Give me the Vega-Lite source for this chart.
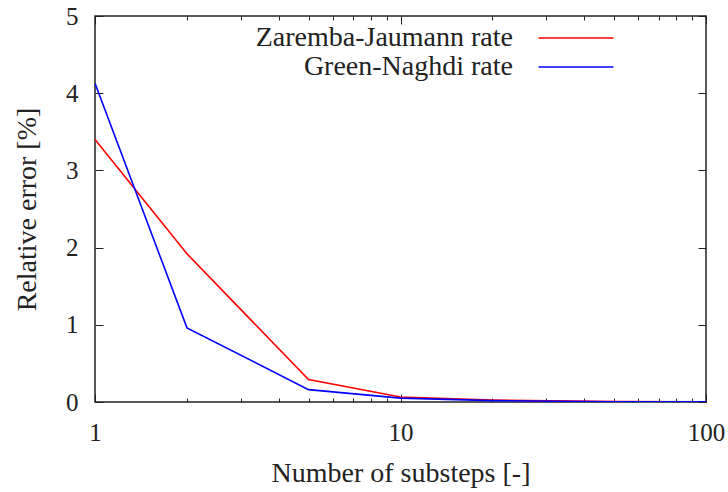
{
  "$schema": "https://vega.github.io/schema/vega-lite/v6.json",
  "width": 611,
  "height": 386,
  "autosize": {"type": "none"},
  "padding": {"left": 95, "top": 16, "right": 22, "bottom": 90},
  "background": "white",
  "config": {
    "font": "Liberation Serif",
    "view": {"stroke": "#222", "strokeWidth": 1.5},
    "axis": {
      "domain": false,
      "grid": false,
      "tickColor": "#222",
      "tickWidth": 1,
      "labelColor": "#222",
      "titleColor": "#222",
      "labelFont": "Liberation Serif",
      "titleFont": "Liberation Serif",
      "labelFontSize": 25,
      "titleFontSize": 28,
      "titleFontWeight": "normal"
    }
  },
  "data": {
    "values": [
      {"series": "Zaremba-Jaumann rate", "substeps": 1, "error": 3.40},
      {"series": "Zaremba-Jaumann rate", "substeps": 2, "error": 1.92},
      {"series": "Zaremba-Jaumann rate", "substeps": 5, "error": 0.29},
      {"series": "Zaremba-Jaumann rate", "substeps": 10, "error": 0.065},
      {"series": "Zaremba-Jaumann rate", "substeps": 20, "error": 0.025},
      {"series": "Zaremba-Jaumann rate", "substeps": 50, "error": 0.005},
      {"series": "Zaremba-Jaumann rate", "substeps": 100, "error": 0.002},
      {"series": "Green-Naghdi rate", "substeps": 1, "error": 4.13},
      {"series": "Green-Naghdi rate", "substeps": 2, "error": 0.96},
      {"series": "Green-Naghdi rate", "substeps": 5, "error": 0.16},
      {"series": "Green-Naghdi rate", "substeps": 10, "error": 0.05},
      {"series": "Green-Naghdi rate", "substeps": 20, "error": 0.018},
      {"series": "Green-Naghdi rate", "substeps": 50, "error": 0.004},
      {"series": "Green-Naghdi rate", "substeps": 100, "error": 0.001}
    ]
  },
  "resolve": {"scale": {"x": "independent", "y": "independent"}, "axis": {"x": "independent", "y": "independent"}},
  "layer": [
    {
      "mark": {"type": "line", "strokeWidth": 1.6, "clip": true},
      "encoding": {
        "x": {
          "field": "substeps", "type": "quantitative",
          "scale": {"type": "log", "domain": [1, 100], "nice": false},
          "axis": {
            "orient": "bottom",
            "values": [1, 10, 100],
            "ticks": false,
            "labelPadding": 18,
            "labelFlush": false,
            "labelOverlap": false,
            "title": "Number of substeps [-]",
            "titlePadding": 14
          }
        },
        "y": {
          "field": "error", "type": "quantitative",
          "scale": {"domain": [0, 5], "nice": false, "zero": true},
          "axis": {
            "orient": "left",
            "values": [0, 1, 2, 3, 4, 5],
            "ticks": false,
            "labelPadding": 17,
            "title": "Relative error [%]",
            "titlePadding": 24
          }
        },
        "color": {
          "field": "series", "type": "nominal",
          "scale": {"domain": ["Zaremba-Jaumann rate", "Green-Naghdi rate"], "range": ["#ff0000", "#0000ff"]},
          "legend": {
            "orient": "none",
            "legendX": 467,
            "legendY": 8,
            "title": null,
            "symbolType": "M-5,0H5",
            "symbolSize": 225,
            "symbolStrokeWidth": 1.6,
            "symbolFillColor": "transparent",
            "labelFont": "Liberation Serif",
            "labelFontSize": 28,
            "labelColor": "#222",
            "rowPadding": 1,
            "padding": 0,
            "labelLimit": 400,
            "encode": {
              "labels": {"update": {"align": {"value": "right"}, "x": {"value": -49}}}
            }
          }
        }
      }
    },
    {
      "mark": {"type": "line", "strokeOpacity": 0},
      "encoding": {
        "x": {
          "field": "substeps", "type": "quantitative",
          "scale": {"type": "log", "domain": [1, 100], "nice": false},
          "axis": {
            "orient": "top",
            "offset": -386,
            "values": [1,2,3,4,5,6,7,8,9,10,20,30,40,50,60,70,80,90,100],
            "labels": false,
            "ticks": true,
            "tickSize": {"condition": {"test": "datum.value == 1 || datum.value == 10 || datum.value == 100", "value": 8}, "value": 4},
            "title": null
          }
        },
        "y": {
          "field": "error", "type": "quantitative",
          "scale": {"domain": [0, 5], "nice": false, "zero": true},
          "axis": {
            "orient": "right",
            "offset": -611,
            "values": [0, 1, 2, 3, 4, 5],
            "labels": false,
            "ticks": true,
            "tickSize": 8,
            "title": null
          }
        },
        "detail": {"field": "series"}
      }
    },
    {
      "mark": {"type": "line", "strokeOpacity": 0},
      "encoding": {
        "x": {
          "field": "substeps", "type": "quantitative",
          "scale": {"type": "log", "domain": [1, 100], "nice": false},
          "axis": {
            "orient": "bottom",
            "offset": -386,
            "values": [1,2,3,4,5,6,7,8,9,10,20,30,40,50,60,70,80,90,100],
            "labels": false,
            "ticks": true,
            "tickSize": {"condition": {"test": "datum.value == 1 || datum.value == 10 || datum.value == 100", "value": 8}, "value": 4},
            "title": null
          }
        },
        "y": {
          "field": "error", "type": "quantitative",
          "scale": {"domain": [0, 5], "nice": false, "zero": true},
          "axis": {
            "orient": "left",
            "offset": -611,
            "values": [0, 1, 2, 3, 4, 5],
            "labels": false,
            "ticks": true,
            "tickSize": 8,
            "title": null
          }
        },
        "detail": {"field": "series"}
      }
    }
  ]
}
